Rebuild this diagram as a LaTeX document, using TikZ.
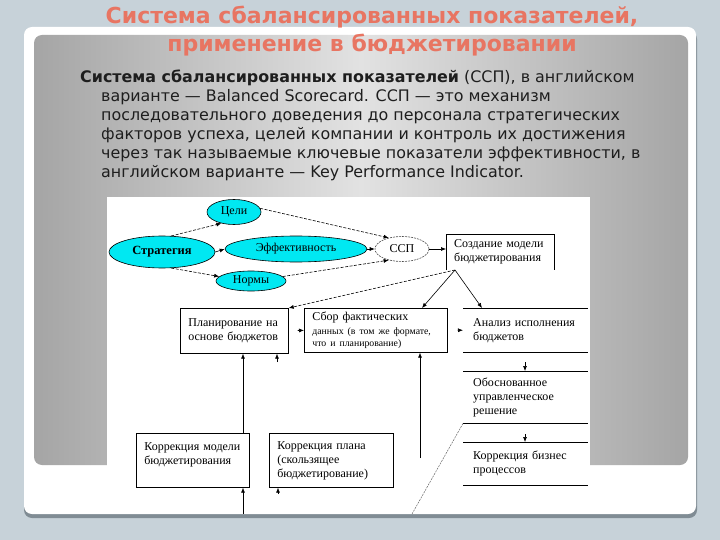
\documentclass[tikz,border=0pt]{standalone}
\usepackage{fontspec}
\setmainfont{Liberation Serif}
\newfontfamily\bodyfont{DejaVu Sans}
\usetikzlibrary{arrows.meta,shapes.geometric}
\definecolor{bgblue}{RGB}{199,210,217}
\definecolor{panelA}{RGB}{165,165,165}
\definecolor{panelB}{RGB}{226,226,226}
\definecolor{shadowc}{RGB}{128,140,148}
\definecolor{titlered}{RGB}{232,117,98}
\definecolor{cyanfill}{RGB}{0,232,242}
\definecolor{bodytext}{RGB}{30,30,30}
\newcommand\mysmalltxt{\fontsize{9.8}{11}\selectfont}
\tikzset{
  titlestyle/.style={font=\bodyfont\bfseries\fontsize{22}{26}\selectfont, text=titlered, inner sep=0pt},
  bodyline/.style={font=\bodyfont\fontsize{15.9}{19}\selectfont, text=bodytext, inner sep=0pt, anchor=base west},
  ell/.style={ellipse, draw=black, line width=0.6pt, fill=cyanfill, inner sep=0pt, font=\fontsize{12}{13}\selectfont},
  sspell/.style={ellipse, draw=black!70, dash pattern=on 2pt off 1pt, line width=0.6pt, inner sep=0pt, font=\fontsize{12}{13}\selectfont},
  boxt/.style={align=left, inner ysep=0pt, anchor=north west, font=\fontsize{12}{14}\selectfont},
  framed/.style={boxt, draw=black, line width=0.7pt},
  arr/.style={-{Latex[length=5pt,width=4pt]}, line width=0.6pt, black},
  darr/.style={arr, dash pattern=on 3pt off 1.5pt}
}
\begin{document}
\begin{tikzpicture}[x=1pt,y=-1pt]
\useasboundingbox (0,0) rectangle (720,540);
% slide background
\fill[bgblue] (0,0) rectangle (720,540);
\fill[shadowc, rounded corners=8pt] (24,31) rectangle (697,518);
\fill[white, rounded corners=8pt] (24,27) rectangle (696,514);
\shade[left color=panelA, right color=panelA, middle color=panelB, rounded corners=8pt] (34,35) rectangle (688,465);
% title
\node[titlestyle] (t1) at (372,17) {Система сбалансированных показателей,};
\node[titlestyle] (t2) at (372,45) {применение в бюджетировании};
% body text
\node[bodyline] (b1) at (80,83) {\textbf{Система сбалансированных показателей} (ССП), в английском};
\node[bodyline] (b2) at (101,102) {варианте — Balanced Scorecard. ССП — это механизм};
\node[bodyline] (b3) at (101,121) {последовательного доведения до персонала стратегических};
\node[bodyline] (b4) at (101,140) {факторов успеха, целей компании и контроль их достижения};
\node[bodyline] (b5) at (101,159) {через так называемые ключевые показатели эффективности, в};
\node[bodyline] (b6) at (101,178) {английском варианте — Key Performance Indicator.};
% diagram picture
\fill[white] (107,197) rectangle (590,514);
% ellipses
\node[ell, minimum width=54pt, minimum height=25pt] (celi) at (234,212) {Цели};
\node[ell, minimum width=106pt, minimum height=32pt, font=\bfseries\fontsize{12.5}{13}\selectfont] (strat) at (162,252) {Стратегия};
\node[ell, minimum width=142pt, minimum height=26pt] (eff) at (296,249) {Эффективность};
\node[ell, minimum width=70pt, minimum height=20pt] (norm) at (251,281) {Нормы};
\node[sspell, minimum width=54pt, minimum height=25pt] (ssp) at (402,249) {ССП};
% model box (open at bottom)
\node[boxt, text width=92pt, inner xsep=8pt, minimum height=36pt] (soz) at (446,234) {Создание модели\\бюджетирования};
\draw[line width=0.7pt] (soz.south west) -- (soz.north west) -- (soz.north east) -- (soz.south east);
% framed boxes
\node[framed, text width=92pt, inner xsep=8pt, minimum height=45pt] (plan) at (180,308) {Планирование на\\основе бюджетов};
\node[framed, text width=127pt, inner xsep=8pt, minimum height=44pt] (sbor) at (304,308) {Сбор фактических\\{\mysmalltxt данных (в том же формате,}\\[-2pt]{\mysmalltxt что и планирование)}};
\node[framed, text width=97pt, inner xsep=8pt, minimum height=54pt] (korm) at (136,433) {Коррекция модели\\бюджетирования\\\mbox{}};
\node[framed, text width=108pt, inner xsep=8pt, minimum height=54pt] (kpl) at (269,433) {Коррекция плана\\(скользящее\\бюджетирование)};
% right column (horizontal rules only)
\node[boxt, text width=105pt, inner xsep=10pt, minimum height=44pt] (an) at (463,308) {Анализ исполнения\\бюджетов};
\node[boxt, text width=105pt, inner xsep=10pt, minimum height=52pt] (ob) at (463,371) {Обоснованное\\управленческое\\решение};
\node[boxt, text width=105pt, inner xsep=10pt, minimum height=43pt] (kb) at (463,442) {Коррекция бизнес\\процессов};
\foreach \n in {an,ob,kb}{
  \draw[line width=0.7pt] (\n.north west) -- (\n.north east);
  \draw[line width=0.7pt] (\n.south west) -- (\n.south east);
}
% helper coordinates
\coordinate (fork) at (455,270);
\coordinate (sborin) at (422,308);
\coordinate (anin) at (482,308);
\coordinate (vx1) at (243,514);
\coordinate (h1) at (277,362);
\coordinate (h2) at (278,494);
\coordinate (h3) at (525,362);
\coordinate (h4) at (525,434);
\coordinate (v3) at (420,458);
\coordinate (diagend) at (412,514);
% connectors, upper part
\draw[darr] (strat.60) -- (celi.222);
\draw[arr] (strat.east) -- (eff.west);
\draw[darr] (strat.-60) -- (norm.172);
\draw[darr] (celi.8) -- (ssp.140);
\draw[arr] (eff.east) -- (ssp.west);
\draw[darr] (norm.8) -- (ssp.220);
\draw[arr] (ssp.east) -- (soz.west |- ssp.east);
\draw[darr] (fork) -- (plan.north east);
\draw[arr] (fork) -- (sborin);
\draw[arr] (fork) -- (anin);
% connectors, lower part
\draw[arr, shorten <=9pt] (plan.east) -- (sbor.west);
\draw[arr, shorten <=10pt] (sbor.east) -- (an.west);
\draw[arr] (korm.north -| vx1) -- (plan.south -| vx1);
\draw[arr] (vx1) -- (korm.south -| vx1);
\draw[arr] (h1) -- (plan.south -| h1);
\draw[arr] (h2) -- (kpl.south -| h2);
\draw[arr] (h3) -- (ob.north -| h3);
\draw[arr] (h4) -- (kb.north -| h4);
\draw[arr] (v3) -- (sbor.south -| v3);
\draw[black!60, line width=0.5pt, dash pattern=on 2pt off 1pt] (ob.south west) -- (diagend);
\end{tikzpicture}
\end{document}
